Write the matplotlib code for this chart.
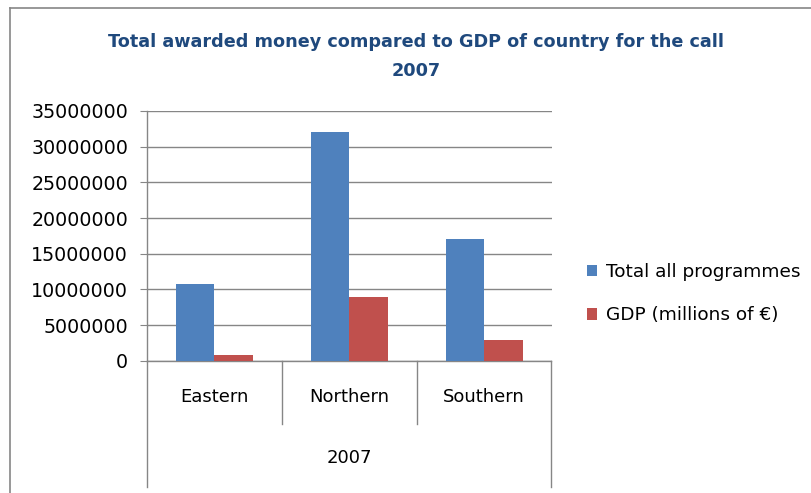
import numpy as np
import matplotlib
matplotlib.use("Agg")
import matplotlib.pyplot as plt
import matplotlib.transforms as mtransforms

# figures for the 2007 call, per region
regions     =   ["Eastern", "Northern", "Southern"]
year_label  =   "2007"
total_all   =   [10800000, 32100000, 17100000]     # Total all programmes
gdp         =   [800000, 8950000, 2900000]         # GDP (millions of €)
series      =   ["Total all programmes", "GDP (millions of \u20ac)"]
yticks      =   np.arange(0, 35000001, 5000000)

blue        =   "#4F81BD"
red         =   "#C0504D"
grey        =   "#868686"
title_col   =   "#1F497D"

plt.rcParams['font.family'] = ['DejaVu Sans']

fig = plt.figure(figsize=(8.12, 4.93), dpi=100)
W, H = 812, 493

# plot area in pixel terms -> figure fraction
left, right, top, bottom = 147, 551.5, 111, 360.7
ax = fig.add_axes([left/W, 1 - bottom/H, (right-left)/W, (bottom-top)/H])

n       =   len(regions)
w       =   1/3.5                                   # gap width 150%
x       =   np.arange(n) + 0.5
b1 = ax.bar(x - w/2, total_all, w, color=blue, label=series[0], zorder=3)
b2 = ax.bar(x + w/2, gdp, w, color=red, label=series[1], zorder=3)

ax.set_xlim(0, n)
ax.set_ylim(0, 35000000)
ax.set_yticks(yticks)
ax.set_yticklabels([str(v) for v in yticks], fontsize=13.7, color="#000000")
ax.set_xticks([])
ax.tick_params(axis='y', length=5, width=0.8, color=grey, pad=8.6)
ax.yaxis.grid(True, color=grey, linewidth=1.0, zorder=0)

for s in ['top', 'right']:
    ax.spines[s].set_visible(False)
for s in ['left', 'bottom']:
    ax.spines[s].set_color(grey)
    ax.spines[s].set_linewidth(1.0)

# multi-level category axis below the plot
trans = mtransforms.blended_transform_factory(ax.transData, ax.transAxes)
plot_h = bottom - top
inner_end   =   -(424 - bottom) / plot_h
outer_end   =   -(487 - bottom) / plot_h
for i in range(n + 1):
    end = outer_end if i in (0, n) else inner_end
    ax.plot([i, i], [0, end], color=grey, lw=1.0, transform=trans, clip_on=False)
for i, name in enumerate(regions):
    ax.text(x[i], -(397 - bottom)/plot_h, name, transform=trans,
            ha='center', va='center', fontsize=13)
ax.text(n/2, -(458 - bottom)/plot_h, year_label, transform=trans,
        ha='center', va='center', fontsize=13)

# title
fig.text(416/W, 1 - 42/H, "Total awarded money compared to GDP of country for the call",
         ha='center', va='center', fontsize=12.7, fontweight='bold', color=title_col)
fig.text(416/W, 1 - 71/H, year_label,
         ha='center', va='center', fontsize=12.7, fontweight='bold', color=title_col)

# legend
fig.legend(handles=[b1, b2], loc='upper left', bbox_to_anchor=(587/W, 1 - 263/H),
           frameon=False, fontsize=13.3, handlelength=0.55, handleheight=0.55,
           handletextpad=0.5, labelspacing=1.38, borderpad=0, borderaxespad=0)

# chart border
fig.add_artist(plt.Line2D([10/W, 10/W], [0, 1 - 8/H], color=grey, lw=1.2))
fig.add_artist(plt.Line2D([10/W, 1], [1 - 8/H, 1 - 8/H], color=grey, lw=1.2))

fig.savefig("out.png", dpi=100)
